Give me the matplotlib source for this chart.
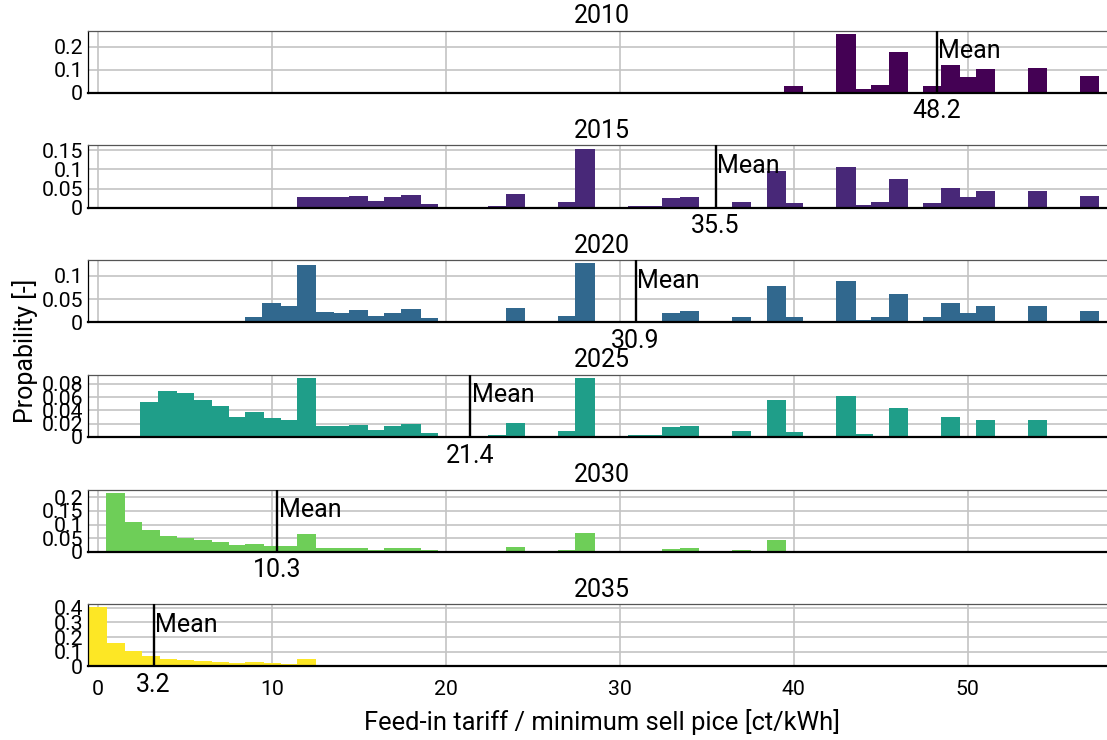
import matplotlib
matplotlib.use("Agg")
import matplotlib.pyplot as plt
from matplotlib.ticker import FormatStrFormatter

plt.rcParams['font.family'] = ['Roboto', 'DejaVu Sans']

# Probability per 1 ct/kWh price bin (bin centre in ct/kWh)
years = ["2010", "2015", "2020", "2025", "2030", "2035"]

bins_2010 = [39, 40, 43, 44, 45, 46, 48, 49, 50, 51, 54, 57]
prob_2010 = [0.002, 0.029, 0.256, 0.016, 0.033, 0.177, 0.029, 0.121, 0.068, 0.103, 0.107, 0.073]

bins_2015 = [12, 13, 14, 15, 16, 17, 18, 19, 23, 24, 27, 28, 31, 32, 33, 34, 37,
             39, 40, 43, 44, 45, 46, 48, 49, 50, 51, 54, 57]
prob_2015 = [0.027, 0.027, 0.027, 0.030, 0.017, 0.027, 0.032, 0.009, 0.003, 0.035,
             0.014, 0.153, 0.003, 0.003, 0.0245, 0.027, 0.014, 0.095, 0.011, 0.106,
             0.006, 0.014, 0.074, 0.011, 0.051, 0.027, 0.043, 0.043, 0.030]

bins_2020 = [8, 9, 10, 11, 12, 13, 14, 15, 16, 17, 18, 19, 23, 24, 27, 28, 31, 32,
             33, 34, 37, 39, 40, 43, 44, 45, 46, 48, 49, 50, 51, 54, 57]
prob_2020 = [0.002, 0.011, 0.041, 0.036, 0.124, 0.023, 0.021, 0.026, 0.013, 0.021,
             0.028, 0.009, 0.002, 0.030, 0.013, 0.127, 0.002, 0.002, 0.019, 0.024,
             0.011, 0.079, 0.011, 0.088, 0.004, 0.011, 0.060, 0.011, 0.041, 0.019,
             0.036, 0.036, 0.024]

bins_2025 = [3, 4, 5, 6, 7, 8, 9, 10, 11, 12, 13, 14, 15, 16, 17, 18, 19, 21, 23,
             24, 25, 27, 28, 29, 30, 31, 32, 33, 34, 35, 37, 39, 40, 43, 44, 46, 48,
             49, 51, 54]
prob_2025 = [0.052, 0.0685, 0.0655, 0.055, 0.046, 0.0295, 0.037, 0.028, 0.025, 0.088,
             0.016, 0.016, 0.0175, 0.010, 0.016, 0.019, 0.0055, 0.001, 0.0025, 0.0205,
             0.001, 0.0085, 0.088, 0.001, 0.001, 0.0025, 0.0025, 0.0145, 0.016, 0.001,
             0.0085, 0.055, 0.007, 0.061, 0.004, 0.043, 0.001, 0.0295, 0.025, 0.025]

bins_2030 = [1, 2, 3, 4, 5, 6, 7, 8, 9, 10, 11, 12, 13, 14, 15, 16, 17, 18, 19, 21,
             22, 23, 24, 25, 27, 28, 29, 30, 31, 32, 33, 34, 35, 37, 39]
prob_2030 = [0.216, 0.109, 0.080, 0.058, 0.050, 0.043, 0.036, 0.0245, 0.028, 0.021,
             0.021, 0.065, 0.0135, 0.0135, 0.0135, 0.006, 0.0135, 0.0135, 0.006, 0.0025,
             0.0025, 0.0025, 0.017, 0.0025, 0.006, 0.069, 0.0025, 0.001, 0.0025, 0.0025,
             0.010, 0.0135, 0.0025, 0.006, 0.043]

bins_2035 = [0, 1, 2, 3, 4, 5, 6, 7, 8, 9, 10, 11, 12]
prob_2035 = [0.407, 0.159, 0.103, 0.069, 0.048, 0.041, 0.0345, 0.0275, 0.0205,
             0.0275, 0.0205, 0.014, 0.048]

means = [48.2, 35.5, 30.9, 21.4, 10.3, 3.2]

yticks = [[0, 0.1, 0.2],
          [0, 0.05, 0.1, 0.15],
          [0, 0.05, 0.1],
          [0, 0.02, 0.04, 0.06, 0.08],
          [0, 0.05, 0.1, 0.15, 0.2],
          [0, 0.1, 0.2, 0.3, 0.4]]
ytops = [0.27, 0.163, 0.134, 0.0935, 0.229, 0.425]
xticks = [0, 10, 20, 30, 40, 50]

colors = ['#440154', '#482878', '#31688e', '#1f9e89', '#6ece58', '#fde725']

all_bins = [bins_2010, bins_2015, bins_2020, bins_2025, bins_2030, bins_2035]
all_probs = [prob_2010, prob_2015, prob_2020, prob_2025, prob_2030, prob_2035]

W, H = 1107, 740
fig = plt.figure(figsize=(W / 100, H / 100), dpi=100)

left_px, right_px = 88.2, 1115.4
top0, step, height = 30.7, 114.7, 62.2
PT = 72 / 100  # points per pixel

for i, year in enumerate(years):
    top = top0 + i * step
    ax = fig.add_axes([left_px / W, 1 - (top + height) / H,
                       (right_px - left_px) / W, height / H])
    ax.bar(all_bins[i], all_probs[i], width=1.1, color=colors[i],
           linewidth=0, zorder=2)
    ax.set_xlim(-0.555, 58.48)
    ax.set_ylim(0, ytops[i])
    ax.set_yticks(yticks[i])
    ax.set_xticks(xticks)
    ax.yaxis.set_major_formatter(FormatStrFormatter('%g'))
    ax.grid(True, color='#c4c4c4', linewidth=1.2, zorder=0)
    ax.set_axisbelow(True)
    ax.tick_params(length=0, labelsize=15.3, pad=5 * PT)
    ax.tick_params(axis='x', pad=14 * PT)
    if i < len(years) - 1:
        ax.tick_params(labelbottom=False)
    ax.set_title(year, fontsize=18, pad=7.4 * PT)

    ax.spines['right'].set_visible(False)
    ax.spines['top'].set_color('#555555')
    ax.spines['top'].set_linewidth(0.9)
    ax.spines['left'].set_color('black')
    ax.spines['left'].set_linewidth(0.9)
    ax.spines['bottom'].set_color('black')
    ax.spines['bottom'].set_linewidth(1.6)

    m = means[i]
    ax.axvline(m, color='black', linewidth=1.7, zorder=3)
    ax.annotate('Mean', xy=(m, 0.555), xycoords=('data', 'axes fraction'),
                xytext=(1.2, 0), textcoords='offset points',
                ha='left', va='baseline', fontsize=18, zorder=4)
    ax.annotate(f'{m:.1f}', xy=(m, 0), xycoords=('data', 'axes fraction'),
                xytext=(0, -25.6 * PT), textcoords='offset points',
                ha='center', va='baseline', fontsize=18, annotation_clip=False)

fig.text(601.8 / W, 1 - 730 / H, 'Feed-in tariff / minimum sell pice [ct/kWh]',
         ha='center', va='baseline', fontsize=18.4)
fig.text(25 / W, 1 - 351 / H, 'Propability [-]', rotation=90,
         ha='center', va='center', fontsize=18)

fig.savefig('out.png', dpi=100)
